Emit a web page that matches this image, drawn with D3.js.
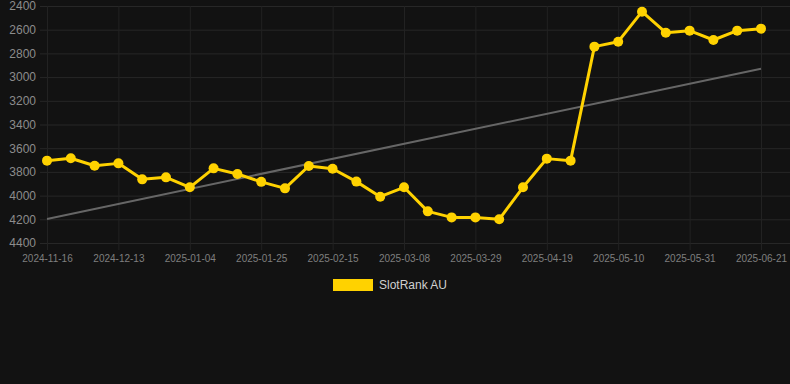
<!DOCTYPE html>
<html>
<head>
<meta charset="utf-8">
<script src="https://cdn.jsdelivr.net/npm/d3@7"></script>
<style>
  html, body { margin: 0; padding: 0; background: #121212; }
  svg { display: block; }
</style>
</head>
<body>
<div id="chart"></div>
<script>
// weekly categories, only every 3rd one gets a label
const dates = [
  '2024-11-16', '2024-11-25', '2024-12-04', '2024-12-13', '2024-12-20', '2024-12-28',
  '2025-01-04', '2025-01-11', '2025-01-18', '2025-01-25', '2025-02-01', '2025-02-08',
  '2025-02-15', '2025-02-22', '2025-03-01', '2025-03-08', '2025-03-15', '2025-03-22',
  '2025-03-29', '2025-04-05', '2025-04-12', '2025-04-19', '2025-04-26', '2025-05-03',
  '2025-05-10', '2025-05-17', '2025-05-24', '2025-05-31', '2025-06-07', '2025-06-14',
  '2025-06-21'
];

const rankAU = [
  3705, 3685, 3748, 3728, 3863, 3846, 3930, 3770, 3818, 3884, 3939, 3750,
  3773, 3882, 4009, 3930, 4133, 4184, 4184, 4200, 3930, 3688, 3705, 2743,
  2701, 2448, 2625, 2608, 2687, 2608, 2591
];

// trend line end points (first and last category)
const trend = [4197, 2929];

const yTicks = [2400, 2600, 2800, 3000, 3200, 3400, 3600, 3800, 4000, 4200, 4400];

const seriesName = 'SlotRank AU';

const W = 790;
const H = 384;

const svg = d3.select('#chart')
  .append('svg')
  .attr('width', W)
  .attr('height', H);

svg.append('rect')
  .attr('width', W)
  .attr('height', H)
  .attr('fill', '#121212');

const x = d3.scalePoint()
  .domain(dates)
  .range([47, 761]);

// rank axis is reversed: best rank at the top
const y = d3.scaleLinear()
  .domain([2400, 4400])
  .range([6, 243]);

// horizontal grid + y labels
const yAxis = d3.axisLeft(y)
  .tickValues(yTicks)
  .tickSize(-(W - 40))
  .tickPadding(4)
  .tickFormat(d3.format('d'));

const yG = svg.append('g')
  .attr('transform', 'translate(40,0)')
  .call(yAxis);

yG.select('.domain').remove();
yG.selectAll('.tick line').attr('stroke', '#272727').attr('stroke-width', 1);
yG.selectAll('.tick text')
  .attr('fill', '#8c8c8c')
  .attr('font-family', 'Liberation Sans, Arial, sans-serif')
  .attr('font-size', 12);

// vertical grid + x labels, every third date
const labelDates = dates.filter((d, i) => i % 3 === 0);

const xAxis = d3.axisBottom(x)
  .tickValues(labelDates)
  .tickSize(-(243 - 6 + 7))
  .tickPadding(10);

const xG = svg.append('g')
  .attr('transform', 'translate(0,250)')
  .call(xAxis);

xG.select('.domain').remove();
xG.selectAll('.tick line').attr('stroke', '#222222').attr('stroke-width', 1);
xG.selectAll('.tick text')
  .attr('fill', '#7f7f7f')
  .attr('font-family', 'Liberation Sans, Arial, sans-serif')
  .attr('font-size', 10)
  .attr('dy', '0.2em');

// trend line
svg.append('line')
  .attr('x1', x(dates[0]))
  .attr('y1', y(trend[0]))
  .attr('x2', x(dates[dates.length - 1]))
  .attr('y2', y(trend[1]))
  .attr('stroke', '#666666')
  .attr('stroke-width', 2);

// series
const line = d3.line()
  .x((d, i) => x(dates[i]))
  .y((d) => y(d));

svg.append('path')
  .datum(rankAU)
  .attr('d', line)
  .attr('fill', 'none')
  .attr('stroke', '#FFD200')
  .attr('stroke-width', 3)
  .attr('stroke-linejoin', 'round');

svg.append('g')
  .selectAll('circle')
  .data(rankAU)
  .enter()
  .append('circle')
  .attr('cx', (d, i) => x(dates[i]))
  .attr('cy', (d) => y(d))
  .attr('r', 5)
  .attr('fill', '#FFD200');

// legend
const legend = svg.append('g');

legend.append('rect')
  .attr('x', 333)
  .attr('y', 279)
  .attr('width', 40)
  .attr('height', 12)
  .attr('fill', '#FFD200');

legend.append('text')
  .attr('x', 379)
  .attr('y', 285)
  .attr('dy', '0.35em')
  .attr('fill', '#d0d0d0')
  .attr('font-family', 'Liberation Sans, Arial, sans-serif')
  .attr('font-size', 12)
  .text(seriesName);
</script>
</body>
</html>
